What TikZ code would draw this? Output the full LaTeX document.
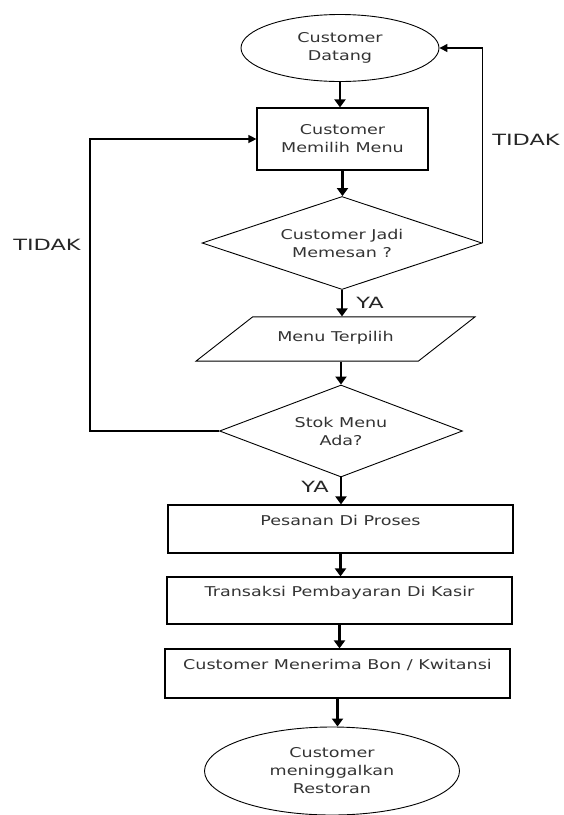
\documentclass[tikz,border=0pt]{standalone}
\usepackage{fontspec}
\setmainfont[FakeStretch=1.3]{DejaVu Sans}
\newfontfamily\ketfont[FakeStretch=1.45]{DejaVu Sans}
\usetikzlibrary{arrows.meta,shapes.geometric}

\begin{document}
\begin{tikzpicture}[x=1pt,y=-1pt,font=\fontsize{13.5}{18}\selectfont,
  kotak/.style={draw,line width=1.2pt,minimum width=345,minimum height=48,align=center,inner sep=0pt,text=black!80},
  elips/.style={draw,ellipse,line width=.9pt,align=center,inner sep=0pt,text=black!80},
  belah/.style={draw,diamond,shape aspect=3,line width=.9pt,align=center,inner sep=0pt,text=black!80},
  panah/.style={line width=2.2pt,-{Triangle[length=8pt,width=11pt]}},
  balik/.style={line width=1.3pt,-{Triangle[length=8pt,width=8pt]}},
  ket/.style={font=\ketfont\fontsize{15.5}{18}\selectfont,text=black!85}]
\useasboundingbox (0,0) rectangle (563,815);
\node[elips,minimum width=198,minimum height=67] (mulai) at (340,48) {Customer\\Datang};
\node[kotak,minimum width=171,minimum height=62] (pilih) at (342.5,139) {Customer\\Memilih Menu};
\node[belah,minimum width=280,minimum height=93] (jadi) at (342,243) {Customer Jadi\\Memesan ?};
\node[draw,trapezium,trapezium left angle=38,trapezium right angle=142,trapezium stretches body,minimum width=279,inner xsep=0pt,inner ysep=14.5pt,line width=.9pt,text=black!80] (terpilih) at (335.5,339) {\raisebox{5pt}{Menu Terpilih}};
\node[belah,minimum width=243,minimum height=92] (stok) at (341,431) {Stok Menu\\Ada?};
\node[kotak] (proses) at (340.5,529) {Pesanan Di Proses\\\mbox{}};
\node[kotak,minimum height=47] (bayar) at (339.5,600.5) {Transaksi Pembayaran Di Kasir\\\mbox{}};
\node[kotak,minimum height=49] (bon) at (337.5,673.5) {Customer Menerima Bon / Kwitansi\\\mbox{}};
\node[elips,minimum width=255,minimum height=88] (selesai) at (332,771) {Customer\\meninggalkan\\Restoran};
% alur utama
\foreach \a/\b in {mulai/pilih,pilih/jadi,jadi/terpilih,stok/proses,proses/bayar,bayar/bon,bon/selesai}{\draw[panah] (\a.south) -- (\a.south|-\b.north);}
\draw[panah] (stok.north|-terpilih.south) -- (stok.north);
\node[ket] (ya1) at (370,303) {YA};\node[ket] (ya2) at (315,487) {YA};
% kembali
\coordinate (kiri) at (90,431);
\draw[balik] (stok.west) -- (kiri) |- (pilih.west);
\draw[balik] (jadi.east) |- (mulai.east);
\node[ket] (tidak1) at (526,140) {TIDAK};\node[ket] (tidak2) at (47,245) {TIDAK};
\end{tikzpicture}
\end{document}
